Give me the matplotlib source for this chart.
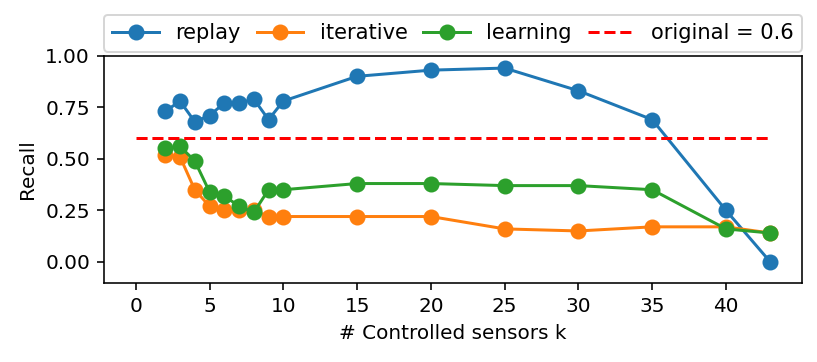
import numpy as np
import matplotlib
matplotlib.use("Agg")
import matplotlib.pyplot as plt

k = [2, 3, 4, 5, 6, 7, 8, 9, 10, 15, 20, 25, 30, 35, 40, 43]
replay = [0.73, 0.78, 0.68, 0.71, 0.77, 0.77, 0.79, 0.69, 0.78, 0.90, 0.93, 0.94, 0.83, 0.69, 0.25, 0.00]
iterative = [0.52, 0.51, 0.35, 0.27, 0.25, 0.25, 0.25, 0.22, 0.22, 0.22, 0.22, 0.16, 0.15, 0.17, 0.17, 0.14]
learning = [0.55, 0.56, 0.49, 0.34, 0.32, 0.27, 0.24, 0.35, 0.35, 0.38, 0.38, 0.37, 0.37, 0.35, 0.16, 0.14]
original = 0.6
orig_x = [0, 43]

fig = plt.figure(figsize=(817/144, 362/144), dpi=144)
ax = fig.add_axes([0.1273, 0.2196, 0.9816-0.1273, 0.8461-0.2196])

ax.plot(k, replay, "o-", ms=7, label="replay")
ax.plot(k, iterative, "o-", ms=7, label="iterative")
ax.plot(k, learning, "o-", ms=7, label="learning")
ax.plot(orig_x, [original, original], "r--", label="original = 0.6")

ax.set_ylim(-0.1, 1.0)
ax.set_xticks(np.arange(0, 45, 5))
ax.set_yticks([0.0, 0.25, 0.5, 0.75, 1.0])
ax.set_xlabel("# Controlled sensors k")
ax.set_ylabel("Recall")
ax.legend(ncol=4, loc="lower left", bbox_to_anchor=(0, 1.018, 1, 0.1), mode="expand",
          borderaxespad=0, handlelength=2.2, fontsize=10.5)

fig.savefig("out.png", dpi=144)
